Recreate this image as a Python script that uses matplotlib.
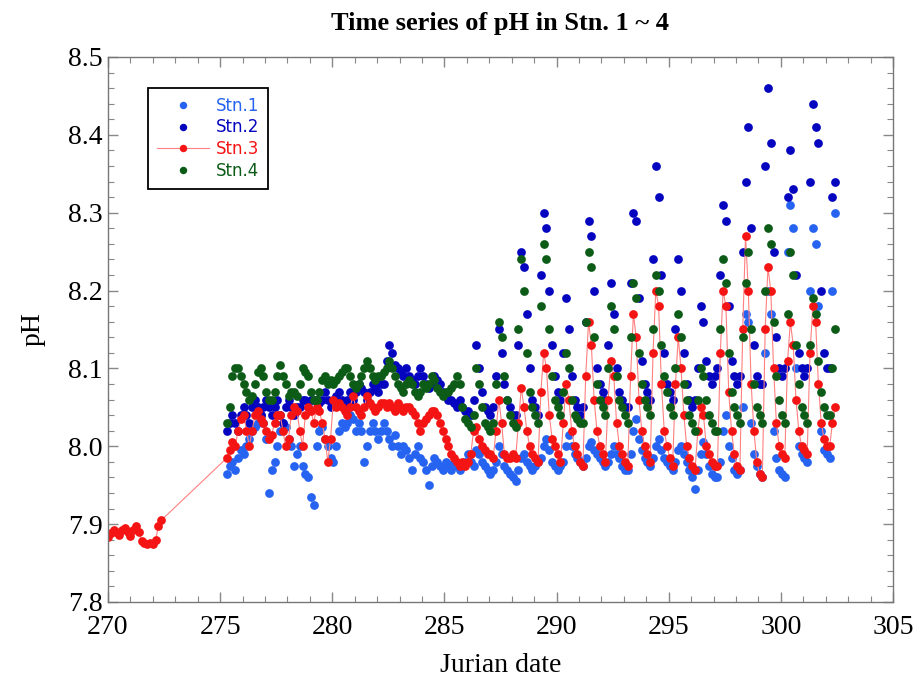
import numpy as np
import matplotlib
matplotlib.use("Agg")
import matplotlib.pyplot as plt
from matplotlib.ticker import MultipleLocator, FormatStrFormatter

# ---------------- data ----------------
DT = 0.125                     # sampling interval (days)
T0_EARLY = 270.0               # start of early Stn.3 record
T0_MAIN = 275.3                # start of main record (all stations)

stn3_early = [7.884, 7.888, 7.892, 7.890, 7.886, 7.893, 7.895, 7.890, 7.885, 7.892,
              7.897, 7.890, 7.878, 7.876, 7.874, 7.876, 7.874, 7.880, 7.898, 7.905]

# one row per day (day+0.3 ... day+1.175)
stn1 = [
    [7.965, 7.975, 7.980, 7.970, 7.985, 7.995, 7.990, 8.000],  # 275
    [8.010, 8.020, 8.025, 8.030, 8.040, 8.030, 8.010, 7.940],  # 276
    [7.970, 7.980, 8.000, 8.020, 8.030, 8.025, 8.010, 8.000],  # 277
    [7.975, 7.990, 8.000, 7.975, 7.965, 7.960, 7.935, 7.925],  # 278
    [8.000, 8.020, 8.025, 8.010, 8.000, 7.985, 7.980, 8.000],  # 279
    [8.020, 8.030, 8.025, 8.030, 8.040, 8.035, 8.020, 8.030],  # 280
    [8.020, 7.980, 8.000, 8.020, 8.030, 8.020, 8.010, 8.020],  # 281
    [8.030, 8.020, 8.010, 8.000, 8.015, 8.000, 7.990, 8.000],  # 282
    [7.995, 7.985, 7.970, 7.990, 8.000, 7.985, 7.980, 7.970],  # 283
    [7.950, 7.975, 7.985, 7.980, 7.975, 7.970, 7.980, 7.975],  # 284
    [7.970, 7.980, 7.975, 7.970, 7.975, 7.980, 7.990, 7.980],  # 285
    [7.975, 7.995, 7.990, 7.980, 7.975, 7.970, 7.965, 7.970],  # 286
    [7.980, 8.000, 7.990, 7.975, 7.970, 7.965, 7.960, 7.955],  # 287
    [7.970, 7.985, 7.990, 7.980, 7.975, 7.970, 7.975, 7.980],  # 288
    [7.985, 8.000, 8.010, 7.995, 7.980, 7.975, 7.970, 7.975],  # 289
    [7.980, 8.000, 8.015, 8.000, 7.990, 7.985, 7.980, 7.975],  # 290
    [7.985, 8.000, 8.005, 7.995, 7.990, 7.985, 7.980, 7.975],  # 291
    [7.980, 7.990, 8.000, 7.990, 7.985, 7.975, 7.970, 7.970],  # 292
    [7.990, 8.020, 8.035, 8.010, 7.995, 7.985, 7.980, 7.975],  # 293
    [7.985, 8.000, 8.010, 7.995, 7.985, 7.980, 7.975, 7.970],  # 294
    [7.980, 7.995, 8.000, 7.990, 7.980, 7.970, 7.960, 7.945],  # 295
    [7.970, 7.990, 8.005, 7.990, 7.975, 7.965, 7.960, 7.960],  # 296
    [7.980, 8.020, 8.040, 8.000, 7.985, 7.970, 7.965, 7.970],  # 297
    [8.050, 8.170, 8.160, 8.030, 7.990, 7.975, 7.965, 7.960],  # 298
    [8.120, 8.200, 8.170, 8.020, 7.985, 7.970, 7.965, 7.960],  # 299
    [8.250, 8.310, 8.280, 8.100, 8.000, 7.990, 7.985, 7.980],  # 300
    [8.200, 8.280, 8.260, 8.180, 8.020, 7.995, 7.990, 7.985],  # 301
    [8.200, 8.300],                                            # 302
]

stn2 = [
    [8.020, 8.030, 8.040, 8.030, 8.020, 8.040, 8.050, 8.040],  # 275
    [8.030, 8.050, 8.060, 8.050, 8.040, 8.050, 8.060, 8.050],  # 276
    [8.040, 8.050, 8.060, 8.040, 8.030, 8.050, 8.060, 8.050],  # 277
    [8.040, 8.050, 8.050, 8.060, 8.060, 8.050, 8.060, 8.060],  # 278
    [8.060, 8.055, 8.060, 8.070, 8.060, 8.050, 8.060, 8.065],  # 279
    [8.070, 8.060, 8.050, 8.060, 8.070, 8.060, 8.070, 8.080],  # 280
    [8.075, 8.070, 8.060, 8.070, 8.080, 8.075, 8.070, 8.080],  # 281
    [8.080, 8.110, 8.130, 8.120, 8.105, 8.100, 8.095, 8.090],  # 282
    [8.100, 8.090, 8.085, 8.080, 8.090, 8.100, 8.090, 8.080],  # 283
    [8.075, 8.080, 8.090, 8.085, 8.080, 8.070, 8.065, 8.060],  # 284
    [8.060, 8.055, 8.050, 8.060, 8.050, 8.045, 8.045, 8.040],  # 285
    [8.060, 8.130, 8.100, 8.070, 8.050, 8.045, 8.040, 8.050],  # 286
    [8.090, 8.150, 8.120, 8.080, 8.060, 8.050, 8.040, 8.040],  # 287
    [8.130, 8.250, 8.230, 8.170, 8.100, 8.060, 8.050, 8.040],  # 288
    [8.220, 8.300, 8.280, 8.200, 8.130, 8.090, 8.070, 8.060],  # 289
    [8.120, 8.190, 8.150, 8.090, 8.060, 8.050, 8.040, 8.050],  # 290
    [8.160, 8.290, 8.270, 8.200, 8.100, 8.080, 8.070, 8.060],  # 291
    [8.130, 8.210, 8.170, 8.100, 8.070, 8.060, 8.050, 8.050],  # 292
    [8.210, 8.300, 8.290, 8.190, 8.110, 8.080, 8.070, 8.060],  # 293
    [8.240, 8.360, 8.320, 8.220, 8.120, 8.080, 8.070, 8.060],  # 294
    [8.150, 8.240, 8.200, 8.120, 8.080, 8.060, 8.050, 8.060],  # 295
    [8.100, 8.180, 8.160, 8.110, 8.090, 8.080, 8.090, 8.100],  # 296
    [8.220, 8.310, 8.290, 8.180, 8.110, 8.090, 8.080, 8.090],  # 297
    [8.250, 8.340, 8.410, 8.280, 8.130, 8.090, 8.080, 8.080],  # 298
    [8.360, 8.460, 8.390, 8.250, 8.140, 8.100, 8.090, 8.100],  # 299
    [8.320, 8.380, 8.330, 8.220, 8.120, 8.100, 8.090, 8.100],  # 300
    [8.340, 8.440, 8.410, 8.390, 8.200, 8.120, 8.100, 8.100],  # 301
    [8.320, 8.340],                                            # 302
]

stn3 = [
    [7.985, 7.995, 8.005, 8.000, 8.020, 8.035, 8.040, 8.020],  # 275
    [8.000, 8.020, 8.040, 8.045, 8.035, 8.030, 8.020, 8.010],  # 276
    [8.015, 8.030, 8.040, 8.040, 8.020, 8.000, 8.010, 8.040],  # 277
    [8.050, 8.045, 8.020, 8.000, 8.040, 8.050, 8.045, 8.030],  # 278
    [8.050, 8.045, 8.030, 8.010, 7.980, 8.010, 8.060, 8.050],  # 279
    [8.055, 8.050, 8.045, 8.040, 8.050, 8.065, 8.050, 8.045],  # 280
    [8.040, 8.050, 8.065, 8.055, 8.050, 8.045, 8.050, 8.055],  # 281
    [8.055, 8.050, 8.055, 8.050, 8.045, 8.055, 8.050, 8.045],  # 282
    [8.050, 8.050, 8.045, 8.040, 8.030, 8.020, 8.030, 8.035],  # 283
    [8.040, 8.045, 8.045, 8.040, 8.030, 8.020, 8.010, 8.000],  # 284
    [7.990, 7.985, 7.980, 7.975, 7.980, 7.975, 7.980, 7.990],  # 285
    [8.020, 8.025, 8.010, 8.000, 7.995, 7.990, 7.990, 7.985],  # 286
    [8.020, 8.060, 8.030, 7.990, 7.985, 7.985, 7.990, 7.985],  # 287
    [8.030, 8.075, 8.050, 8.020, 8.000, 7.990, 7.985, 7.980],  # 288
    [8.070, 8.120, 8.100, 8.040, 8.010, 8.000, 7.990, 7.980],  # 289
    [8.030, 8.080, 8.060, 8.020, 8.000, 7.990, 7.980, 7.975],  # 290
    [8.090, 8.160, 8.130, 8.060, 8.020, 8.000, 7.990, 7.980],  # 291
    [8.060, 8.110, 8.090, 8.030, 8.000, 7.990, 7.980, 7.975],  # 292
    [8.090, 8.170, 8.140, 8.060, 8.020, 8.000, 7.990, 7.980],  # 293
    [8.120, 8.200, 8.180, 8.080, 8.020, 8.000, 7.985, 7.975],  # 294
    [8.080, 8.140, 8.100, 8.040, 8.000, 7.985, 7.975, 7.970],  # 295
    [8.020, 8.050, 8.040, 8.000, 7.990, 7.980, 7.975, 7.975],  # 296
    [8.120, 8.200, 8.180, 8.070, 8.020, 7.990, 7.975, 7.970],  # 297
    [8.150, 8.270, 8.200, 8.080, 8.020, 7.980, 7.965, 7.960],  # 298
    [8.150, 8.230, 8.200, 8.100, 8.030, 8.000, 7.990, 7.985],  # 299
    [8.110, 8.160, 8.130, 8.060, 8.020, 8.000, 7.995, 7.990],  # 300
    [8.120, 8.180, 8.160, 8.080, 8.030, 8.010, 8.000, 8.000],  # 301
    [8.030, 8.050],                                            # 302
]

stn4 = [
    [8.030, 8.050, 8.090, 8.100, 8.100, 8.090, 8.080, 8.070],  # 275
    [8.060, 8.065, 8.080, 8.095, 8.100, 8.090, 8.070, 8.060],  # 276
    [8.060, 8.070, 8.090, 8.105, 8.090, 8.080, 8.065, 8.070],  # 277
    [8.070, 8.065, 8.080, 8.100, 8.095, 8.090, 8.070, 8.060],  # 278
    [8.060, 8.070, 8.085, 8.090, 8.080, 8.085, 8.080, 8.085],  # 279
    [8.090, 8.095, 8.100, 8.100, 8.090, 8.080, 8.075, 8.080],  # 280
    [8.090, 8.100, 8.110, 8.100, 8.090, 8.085, 8.090, 8.090],  # 281
    [8.095, 8.100, 8.110, 8.100, 8.090, 8.080, 8.075, 8.070],  # 282
    [8.080, 8.085, 8.080, 8.070, 8.065, 8.070, 8.080, 8.075],  # 283
    [8.080, 8.090, 8.085, 8.075, 8.070, 8.065, 8.070, 8.070],  # 284
    [8.075, 8.080, 8.090, 8.080, 8.050, 8.035, 8.030, 8.025],  # 285
    [8.040, 8.100, 8.080, 8.050, 8.030, 8.025, 8.020, 8.030],  # 286
    [8.080, 8.160, 8.140, 8.090, 8.060, 8.040, 8.030, 8.025],  # 287
    [8.150, 8.240, 8.200, 8.120, 8.070, 8.050, 8.040, 8.030],  # 288
    [8.180, 8.260, 8.240, 8.150, 8.090, 8.060, 8.050, 8.040],  # 289
    [8.070, 8.120, 8.100, 8.060, 8.040, 8.035, 8.030, 8.030],  # 290
    [8.160, 8.250, 8.230, 8.140, 8.080, 8.060, 8.050, 8.040],  # 291
    [8.100, 8.180, 8.150, 8.090, 8.060, 8.050, 8.040, 8.030],  # 292
    [8.140, 8.210, 8.190, 8.120, 8.080, 8.060, 8.050, 8.040],  # 293
    [8.150, 8.220, 8.200, 8.130, 8.090, 8.070, 8.050, 8.040],  # 294
    [8.100, 8.170, 8.140, 8.080, 8.060, 8.040, 8.030, 8.020],  # 295
    [8.060, 8.100, 8.090, 8.060, 8.040, 8.030, 8.020, 8.020],  # 296
    [8.150, 8.240, 8.210, 8.120, 8.070, 8.050, 8.040, 8.030],  # 297
    [8.140, 8.210, 8.250, 8.150, 8.080, 8.050, 8.040, 8.030],  # 298
    [8.200, 8.280, 8.260, 8.160, 8.090, 8.060, 8.040, 8.030],  # 299
    [8.170, 8.250, 8.220, 8.130, 8.080, 8.050, 8.040, 8.030],  # 300
    [8.130, 8.190, 8.170, 8.110, 8.070, 8.050, 8.040, 8.040],  # 301
    [8.100, 8.150],                                            # 302
]

labels = ["Stn.1", "Stn.2", "Stn.3", "Stn.4"]
colors = ["#2563f0", "#0505c0", "#f41414", "#0c5c18"]

# ---------------- plotting ----------------
def flat(rows):
    return np.array([v for r in rows for v in r])

y1, y2, y3, y4 = flat(stn1), flat(stn2), flat(stn3), flat(stn4)
t_main = T0_MAIN + DT * np.arange(len(y1))
t_early = T0_EARLY + DT * np.arange(len(stn3_early))
t3 = np.concatenate([t_early, t_main])
y3_all = np.concatenate([np.array(stn3_early), y3])

plt.rcParams["font.family"] = ["Liberation Serif", "DejaVu Serif"]

fig = plt.figure(figsize=(9.17, 6.79), dpi=100)
ax = fig.add_axes([108 / 917, 1 - 602 / 679, 785 / 917, (602 - 57) / 679])

ms = 6.3
ax.plot(t_main, y1, linestyle="none", marker="o", ms=ms, mec="none",
        color=colors[0], label=labels[0])
ax.plot(t_main, y2, linestyle="none", marker="o", ms=ms, mec="none",
        color=colors[1], label=labels[1])
ax.plot(t3, y3_all, linestyle="-", lw=0.8, color="#ff8080", marker="o", ms=ms,
        mfc=colors[2], mec="none", label=labels[2])
ax.plot(t_main, y4, linestyle="none", marker="o", ms=ms, mec="none",
        color=colors[3], label=labels[3])

ax.set_xlim(270, 305)
ax.set_ylim(7.8, 8.5)
ax.xaxis.set_major_locator(MultipleLocator(5))
ax.xaxis.set_minor_locator(MultipleLocator(1))
ax.yaxis.set_major_locator(MultipleLocator(0.1))
ax.yaxis.set_minor_locator(MultipleLocator(0.02))
ax.yaxis.set_major_formatter(FormatStrFormatter("%.1f"))

ax.tick_params(which="both", direction="in", top=True, right=True, color="#888888")
ax.tick_params(which="major", length=7, width=1.0)
ax.tick_params(which="minor", length=4, width=0.8)
ax.tick_params(axis="x", which="major", labelsize=20, pad=9)
ax.tick_params(axis="y", which="major", labelsize=20, pad=4)
for s in ax.spines.values():
    s.set_color("#777777")
    s.set_linewidth(1.0)

ax.set_xlabel("Jurian date", fontsize=20, labelpad=10)
ax.set_ylabel("pH", fontsize=20, labelpad=16)
fig.text(0.545, 0.966, "Time series of pH in Stn. 1 ~ 4", ha="center", va="center",
         fontsize=19, fontweight="bold")

leg = ax.legend(loc="upper left", bbox_to_anchor=(0.051, 0.944), borderaxespad=0,
                frameon=True, fancybox=False, edgecolor="black", framealpha=1,
                prop={"family": "DejaVu Sans", "size": 12},
                handlelength=3.1, handletextpad=0.4, labelspacing=0.22,
                borderpad=0.55, markerscale=0.85)
leg.get_frame().set_linewidth(1.3)
for txt, c in zip(leg.get_texts(), colors):
    txt.set_color(c)

fig.savefig("out.png", dpi=100)
